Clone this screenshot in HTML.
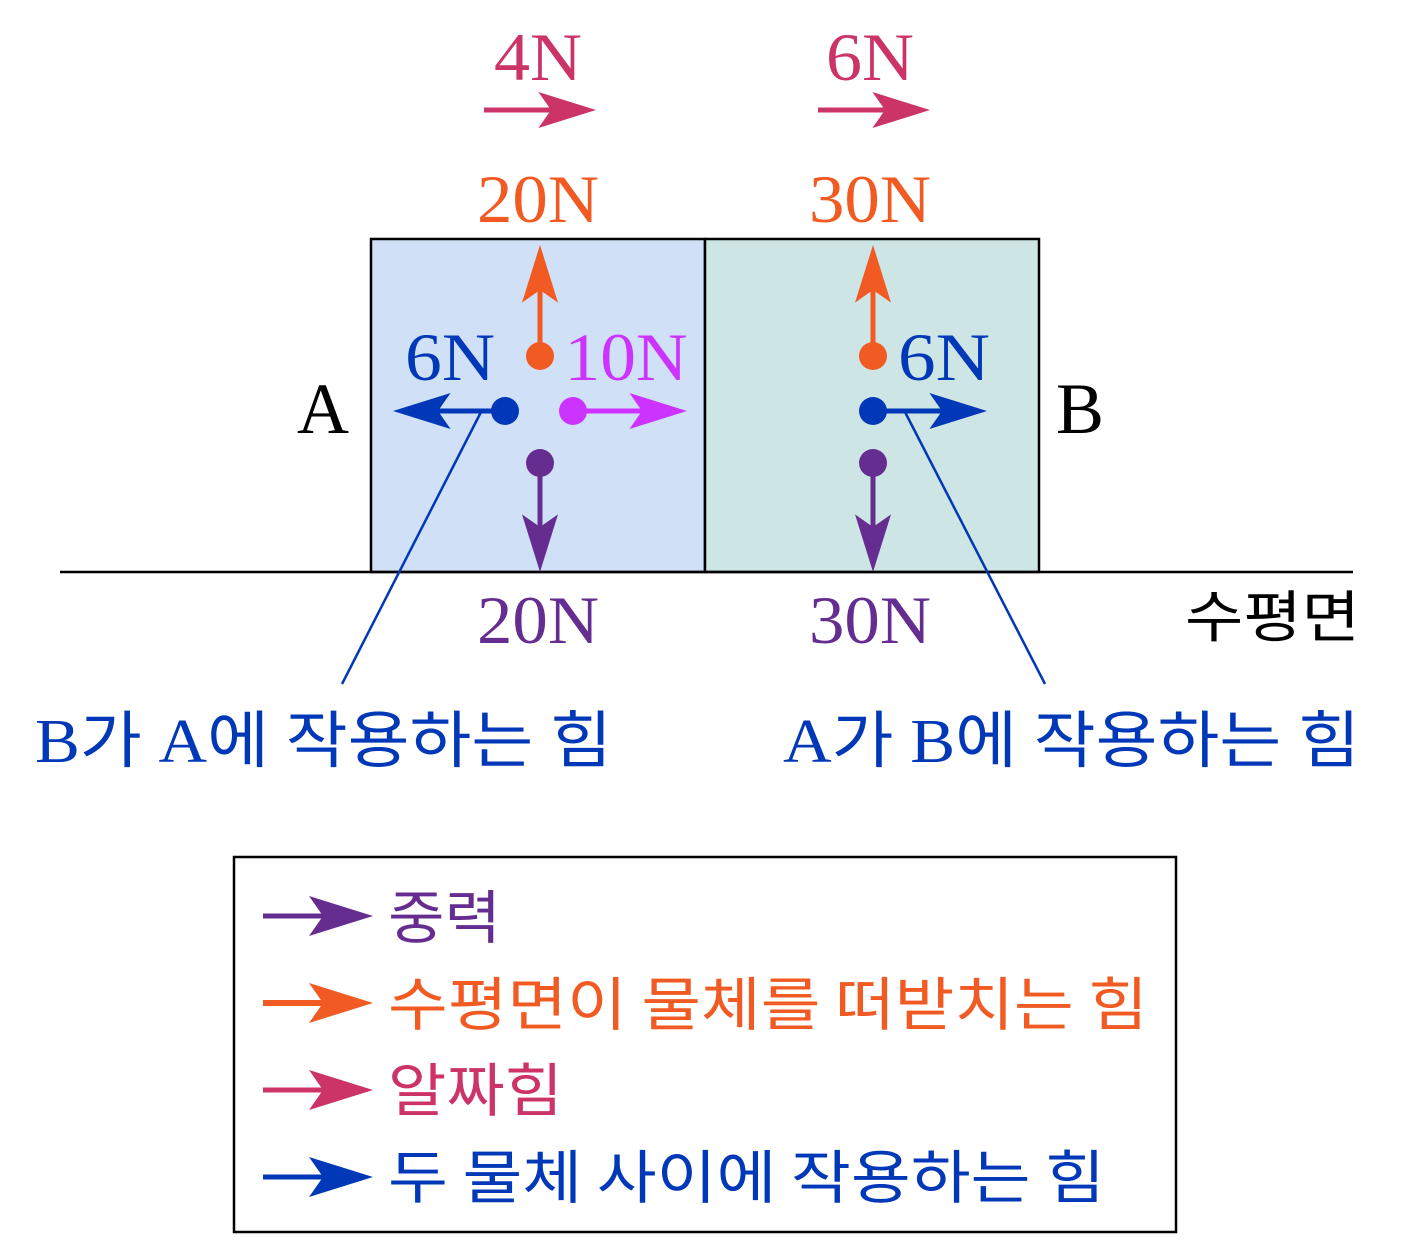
<!DOCTYPE html>
<html><head><meta charset="utf-8"><style>html,body{margin:0;padding:0;background:#fff}svg{display:block}</style></head>
<body>
<svg width="1416" height="1255" viewBox="0 0 1416 1255" xmlns="http://www.w3.org/2000/svg">
<defs>
<path id="hd" d="M0,0 L-64,-20 L-50,0 L-64,20 Z"/>
</defs>
<rect x="371" y="239" width="334" height="333" fill="#D0E0F6" stroke="#000" stroke-width="2.5"/>
<rect x="705" y="239" width="334" height="333" fill="#CDE5E5" stroke="#000" stroke-width="2.5"/>
<line x1="60" y1="572" x2="1353" y2="572" stroke="#000" stroke-width="2.5"/>

<g font-family="'Liberation Serif',serif" font-size="68" text-anchor="middle">
<text x="538" y="80" fill="#CC3366" textLength="88" lengthAdjust="spacingAndGlyphs">4N</text>
<text x="870" y="80" fill="#CC3366" textLength="88" lengthAdjust="spacingAndGlyphs">6N</text>
<text x="538" y="222" fill="#F15A22" textLength="122" lengthAdjust="spacingAndGlyphs">20N</text>
<text x="870" y="222" fill="#F15A22" textLength="122" lengthAdjust="spacingAndGlyphs">30N</text>
<text x="538" y="643" fill="#662D91" textLength="122" lengthAdjust="spacingAndGlyphs">20N</text>
<text x="870" y="643" fill="#662D91" textLength="122" lengthAdjust="spacingAndGlyphs">30N</text>
<text x="450" y="380" fill="#0038B8" textLength="90" lengthAdjust="spacingAndGlyphs">6N</text>
<text x="944" y="380" fill="#0038B8" textLength="92" lengthAdjust="spacingAndGlyphs">6N</text>
<text x="626" y="380" fill="#CC33FF" textLength="123" lengthAdjust="spacingAndGlyphs">10N</text>
<text x="323" y="433" fill="#000" font-size="72">A</text>
<text x="1080" y="433" fill="#000" font-size="72">B</text>
</g>

<!-- top pink arrows -->
<g fill="#CC3366" stroke="#CC3366">
<line x1="484" y1="110" x2="560" y2="110" stroke-width="5"/>
<use href="#hd" transform="translate(596,110) scale(0.9)" stroke="none"/>
<line x1="818" y1="110" x2="894" y2="110" stroke-width="5"/>
<use href="#hd" transform="translate(930,110) scale(0.9)" stroke="none"/>
</g>
<!-- orange up -->
<g fill="#F15A22" stroke="#F15A22">
<line x1="540" y1="356" x2="540" y2="285" stroke-width="5"/>
<use href="#hd" transform="translate(540,245) rotate(-90) scale(0.9)" stroke="none"/>
<circle cx="540" cy="356" r="14" stroke="none"/>
<line x1="873" y1="356" x2="873" y2="285" stroke-width="5"/>
<use href="#hd" transform="translate(873,245) rotate(-90) scale(0.9)" stroke="none"/>
<circle cx="873" cy="356" r="14" stroke="none"/>
</g>
<!-- purple down -->
<g fill="#662D91" stroke="#662D91">
<line x1="540" y1="463" x2="540" y2="535" stroke-width="5"/>
<use href="#hd" transform="translate(540,572) rotate(90) scale(0.9)" stroke="none"/>
<circle cx="540" cy="463" r="14" stroke="none"/>
<line x1="873" y1="463" x2="873" y2="535" stroke-width="5"/>
<use href="#hd" transform="translate(873,572) rotate(90) scale(0.9)" stroke="none"/>
<circle cx="873" cy="463" r="14" stroke="none"/>
</g>
<!-- magenta -->
<g fill="#CC33FF" stroke="#CC33FF">
<line x1="573" y1="411" x2="650" y2="411" stroke-width="5"/>
<use href="#hd" transform="translate(687,411) scale(0.9)" stroke="none"/>
<circle cx="573" cy="411" r="14" stroke="none"/>
</g>
<!-- blue -->
<g fill="#0038B8" stroke="#0038B8">
<line x1="505" y1="411" x2="430" y2="411" stroke-width="5"/>
<use href="#hd" transform="translate(393,411) rotate(180) scale(0.9)" stroke="none"/>
<circle cx="505" cy="411" r="14" stroke="none"/>
<line x1="873" y1="411" x2="950" y2="411" stroke-width="5"/>
<use href="#hd" transform="translate(987,411) scale(0.9)" stroke="none"/>
<circle cx="873" cy="411" r="14" stroke="none"/>
<line x1="481" y1="412" x2="342" y2="684" stroke-width="2.5"/>
<line x1="905" y1="412" x2="1045" y2="684" stroke-width="2.5"/>
</g>

<g font-family="'Liberation Serif','Noto Sans CJK KR',sans-serif" font-size="62">
<text x="35" y="762" fill="#0038B8" textLength="577" lengthAdjust="spacingAndGlyphs">B가 A에 작용하는 힘</text>
<text x="783" y="762" fill="#0038B8" textLength="577" lengthAdjust="spacingAndGlyphs">A가 B에 작용하는 힘</text>
</g>
<text x="1185" y="637" font-family="'Noto Sans CJK KR',sans-serif" font-size="56" fill="#000" textLength="175" lengthAdjust="spacingAndGlyphs">수평면</text>

<rect x="234" y="857" width="942" height="375" fill="none" stroke="#000" stroke-width="2.5"/>
<g>
<line x1="263" y1="916" x2="345" y2="916" stroke="#662D91" stroke-width="5"/>
<use href="#hd" transform="translate(373,916) scale(1)" fill="#662D91"/>
<line x1="263" y1="1003" x2="345" y2="1003" stroke="#F15A22" stroke-width="6"/>
<use href="#hd" transform="translate(373,1003) scale(1)" fill="#F15A22"/>
<line x1="263" y1="1090" x2="345" y2="1090" stroke="#CC3366" stroke-width="5"/>
<use href="#hd" transform="translate(373,1090) scale(1)" fill="#CC3366"/>
<line x1="263" y1="1177" x2="345" y2="1177" stroke="#0038B8" stroke-width="5"/>
<use href="#hd" transform="translate(373,1177) scale(1)" fill="#0038B8"/>
</g>
<g font-family="'Noto Sans CJK KR',sans-serif" font-size="58">
<text x="388" y="938" fill="#662D91" textLength="113" lengthAdjust="spacingAndGlyphs">중력</text>
<text x="388" y="1025" fill="#F15A22" textLength="760" lengthAdjust="spacingAndGlyphs">수평면이 물체를 떠받치는 힘</text>
<text x="388" y="1111" fill="#CC3366" textLength="175" lengthAdjust="spacingAndGlyphs">알짜힘</text>
<text x="388" y="1198" fill="#0038B8" textLength="717" lengthAdjust="spacingAndGlyphs">두 물체 사이에 작용하는 힘</text>
</g>
</svg>
</body></html>
